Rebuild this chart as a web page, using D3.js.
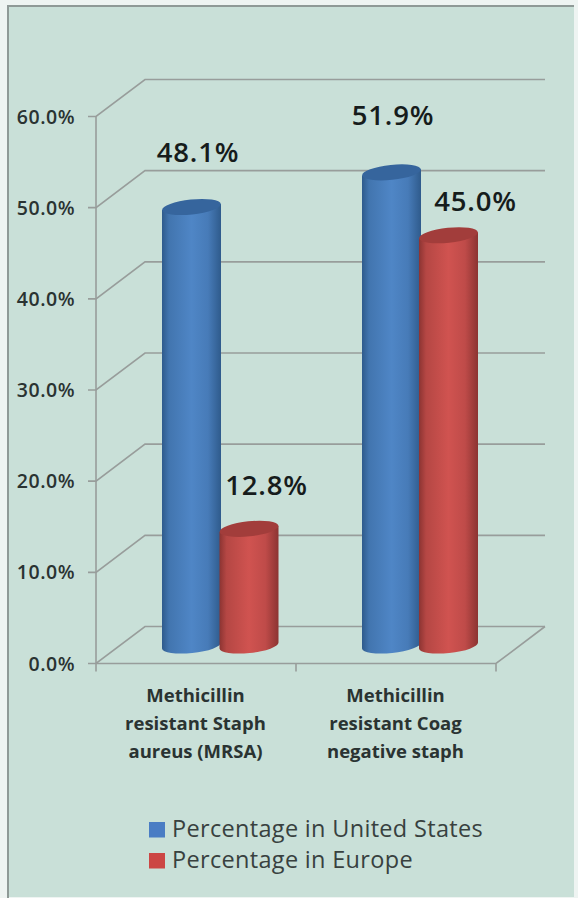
<!DOCTYPE html>
<html>
<head>
<meta charset="utf-8">
<script src="https://cdn.jsdelivr.net/npm/d3@7/dist/d3.min.js"></script>
<style>
html,body{margin:0;padding:0;background:#fff}
svg{display:block}
text{font-family:"Open Sans","Noto Sans",sans-serif}
</style>
</head>
<body>
<svg id="chart" width="578" height="898"></svg>
<script>
const categories = [
  ["Methicillin", "resistant Staph", "aureus (MRSA)"],
  ["Methicillin", "resistant Coag", "negative staph"]
];
const seriesNames = ["Percentage in United States", "Percentage in Europe"];
const unitedStates = [48.1, 51.9];
const europe = [12.8, 45.0];
const yTicks = [0, 10, 20, 30, 40, 50, 60];
const palette = [
  {edge: "#2f5b8c", mid: "#4f86c6", top: "#36659d", key: "#4a7dc4"},
  {edge: "#8c3432", mid: "#d05350", top: "#a23d3b", key: "#cc4644"}
];

const svg = d3.select("#chart");
const defs = svg.append("defs");

palette.forEach((c, i) => {
  const g = defs.append("linearGradient").attr("id", "cyl" + i);
  [[0, c.edge], [0.12, d3.interpolateRgb(c.edge, c.mid)(0.6)], [0.5, c.mid], [0.78, d3.interpolateRgb(c.edge, c.mid)(0.75)], [1, c.edge]]
    .forEach(([o, col]) => g.append("stop").attr("offset", o).attr("stop-color", col));
});

// Panel: pale outer margin, tinted face, grey rule along the top and left sides
svg.append("rect").attr("width", 578).attr("height", 898).attr("fill", "#eef4f2");
svg.append("rect").attr("x", 8).attr("y", 6).attr("width", 566).attr("height", 891)
  .attr("fill", "#c9e0d8");
svg.append("path").attr("d", "M8,898V6H574").attr("fill", "none")
  .attr("stroke", "#8f9a97").attr("stroke-width", 2);

// Scales: y is the front plane of the axis box, the wall is offset back from it
const y = d3.scaleLinear().domain([0, 60]).range([663.5, 116.5]);
const x0 = d3.scaleBand().domain([0, 1]).range([96, 496]);
const depthX = 49, depthY = -37;
const wallRight = 545;
const midDepth = -18;   // cylinders stand mid-way into the floor

const gridColor = "#989d9b";
const grid = svg.append("g").attr("fill", "none").attr("stroke", gridColor).attr("stroke-width", 1.6);
yTicks.forEach(t => {
  const p = d3.path();
  p.moveTo(88, y(t));
  p.lineTo(96, y(t));
  p.lineTo(96 + depthX, y(t) + depthY);
  p.lineTo(wallRight, y(t) + depthY);
  grid.append("path").attr("d", p.toString());
});
// Axis lines and floor edges
const frame = d3.path();
frame.moveTo(96, y(60)); frame.lineTo(96, y(0) + 8);
frame.moveTo(96, y(0)); frame.lineTo(x0.range()[1], y(0));
frame.lineTo(wallRight, y(0) + depthY);
x0.domain().concat([2]).forEach(i => {
  const xx = i === 2 ? x0.range()[1] : x0(i);
  frame.moveTo(xx, y(0)); frame.lineTo(xx, y(0) + 8);
});
grid.append("path").attr("d", frame.toString());

// Tick labels
svg.append("g").selectAll("text").data(yTicks).join("text")
  .attr("x", 75).attr("y", d => y(d) + 7)
  .attr("text-anchor", "end").attr("font-size", 19.5).attr("font-weight", 600)
  .attr("letter-spacing", 0.5)
  .attr("fill", "#2a3332").text(d => d.toFixed(1) + "%");

// Cylinders
const barW = 59, ry = 7.5, tilt = -6;
function cylinder(cx, value, i) {
  const topY = y(value) + midDepth;
  const botY = y(0) + midDepth;
  const rx = barW / 2;
  const dy = rx * Math.sin(tilt * Math.PI / 180);
  const g = svg.append("g");
  const arc = `A${rx},${ry} ${tilt} 0 0 ${cx + rx},${botY + dy}`;
  const d = `M${cx - rx},${topY - dy}L${cx - rx},${botY - dy}${arc}L${cx + rx},${topY + dy}Z`;
  g.append("path").attr("d", d).attr("fill", `url(#cyl${i})`);
  g.append("ellipse").attr("rx", rx).attr("ry", ry)
    .attr("transform", `translate(${cx},${topY}) rotate(${tilt})`)
    .attr("fill", palette[i].top);
}
const blueX = [191.5, 391.5];
const redX = [249, 448.5];
// blue drawn first so that red overlaps it, left group before right group
unitedStates.forEach((v, k) => { cylinder(blueX[k], v, 0); cylinder(redX[k], europe[k], 1); });

// Value labels
const valueLabels = [
  {v: unitedStates[0], x: 198, y: 162},
  {v: unitedStates[1], x: 393, y: 125},
  {v: europe[0], x: 266.5, y: 495},
  {v: europe[1], x: 475.5, y: 211}
];
svg.append("g").selectAll("text").data(valueLabels).join("text")
  .attr("x", d => d.x).attr("y", d => d.y).attr("text-anchor", "middle")
  .attr("font-size", 27.5).attr("font-weight", 600).attr("letter-spacing", 0.8)
  .attr("fill", "#161c1c")
  .text(d => d.v.toFixed(1) + "%");

// Category labels
categories.forEach((lines, i) => {
  svg.append("g").selectAll("text").data(lines).join("text")
    .attr("x", x0(i) + x0.bandwidth() / 2 - 0.5)
    .attr("y", (d, k) => 701.5 + k * 28.3)
    .attr("text-anchor", "middle").attr("font-size", 18.5).attr("font-weight", 700)
    .attr("fill", "#2a3332").text(d => d);
});

// Legend
seriesNames.forEach((s, i) => {
  const ly = 829.5 + i * 31;
  svg.append("rect").attr("x", 149).attr("y", ly - 7.5).attr("width", 16).attr("height", 15.5)
    .attr("fill", palette[i].key);
  svg.append("text").attr("x", 172).attr("y", ly + 7.5).attr("font-size", 23.5)
    .attr("letter-spacing", 0.32).attr("fill", "#38413f").text(s);
});
</script>
</body>
</html>
